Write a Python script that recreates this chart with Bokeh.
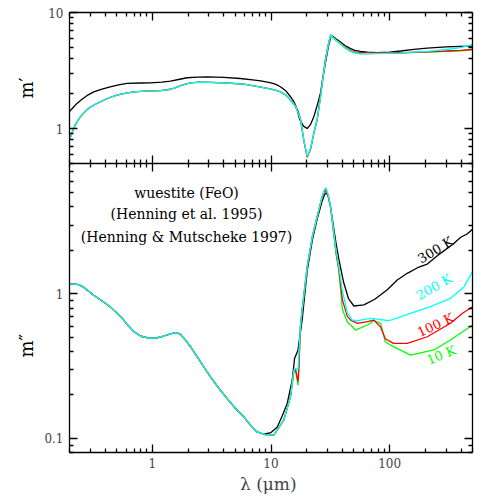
from bokeh.plotting import figure
from bokeh.layouts import column
from bokeh.models import LogAxis, Label, FixedTicker, CustomJSTickFormatter, Range1d, Title
from bokeh.embed import file_html
from bokeh.resources import INLINE

FONT = "DejaVu Serif"

# ---------------- data: real part m' ----------------
lam_n_300 = [0.2, 0.21, 0.23, 0.255, 0.28, 0.32, 0.37, 0.44, 0.52, 0.61,
             0.8, 0.96, 1.2, 1.42, 1.7, 1.96, 2.4, 2.9, 4.0, 5.5,
             7.0, 8.2, 10.0, 11.0, 12.0, 13.3, 14.6, 15.5, 16.0, 16.6,
             17.5, 18.8, 20.2, 21.5, 23.0, 25.0, 26.2, 27.5, 28.8, 30.5,
             32.2, 33.5, 35.5, 38.6, 42.0, 46.9, 51.0, 56.9, 65.0, 78.6,
             100, 124, 160, 208, 300, 398, 500]
n_300 = [1.40, 1.48, 1.64, 1.79, 1.92, 2.07, 2.18, 2.29, 2.38, 2.45,
         2.47, 2.48, 2.51, 2.56, 2.66, 2.74, 2.78, 2.79, 2.76, 2.70,
         2.63, 2.58, 2.48, 2.40, 2.29, 2.12, 1.88, 1.72, 1.62, 1.45,
         1.19, 1.05, 1.00, 1.08, 1.27, 1.70, 2.05, 2.80, 3.70, 5.10,
         6.35, 6.20, 5.90, 5.57, 5.20, 4.89, 4.72, 4.63, 4.56, 4.52,
         4.56, 4.66, 4.82, 4.94, 5.05, 5.11, 5.13]

# shared short-wavelength part of the 200 K, 100 K and 10 K curves
lam_n_short = [0.2, 0.21, 0.224, 0.237, 0.25, 0.265, 0.28, 0.30, 0.33, 0.364,
               0.4, 0.45, 0.5, 0.6, 0.7, 0.85, 1.0, 1.17, 1.35, 1.51,
               1.75, 2.09, 2.5, 3.09, 4.2, 5.9, 8.2, 9.3, 10.7, 12.0,
               13.3, 14.6]
n_short = [0.80, 0.92, 1.08, 1.19, 1.28, 1.37, 1.45, 1.53, 1.62, 1.70,
           1.78, 1.87, 1.94, 2.02, 2.07, 2.10, 2.11, 2.12, 2.16, 2.22,
           2.36, 2.48, 2.51, 2.50, 2.47, 2.41, 2.28, 2.22, 2.15, 2.07,
           1.95, 1.76]

lam_n_200_tail = [15.8, 16.3, 17.8, 18.9, 20.2, 21.6, 23.0, 24.5, 26.2, 27.5,
                  28.8, 30.3, 31.8, 33.5, 35.5, 38.6, 42.0, 46.9, 51.0, 56.9,
                  78.6, 124, 208, 300, 398, 500]
n_200_tail = [1.60, 1.52, 1.19, 0.80, 0.575, 0.68, 0.92, 1.19, 1.88, 2.80,
              3.88, 5.20, 6.44, 6.10, 5.75, 5.39, 5.00, 4.66, 4.52, 4.42,
              4.42, 4.48, 4.63, 4.80, 4.98, 5.30]

lam_n_cold_tail = [15.8, 16.3, 16.9, 17.8, 18.9, 20.2, 21.6, 23.0, 24.5, 26.2,
                   27.5, 28.8, 30.3, 31.8, 33.5, 35.5, 38.6, 42.0, 46.9, 51.0,
                   56.9, 78.6, 124, 208, 300, 398, 500]
n_100_tail = [1.60, 1.50, 1.42, 1.17, 0.79, 0.565, 0.67, 0.91, 1.19, 1.90,
              2.82, 3.92, 5.20, 6.40, 6.15, 5.80, 5.45, 5.05, 4.70, 4.58,
              4.50, 4.50, 4.50, 4.58, 4.66, 4.72, 4.80]
n_10_tail = [1.60, 1.50, 1.44, 1.18, 0.80, 0.57, 0.68, 0.93, 1.21, 1.92,
             2.85, 3.95, 5.15, 6.30, 6.00, 5.70, 5.35, 4.95, 4.62, 4.48,
             4.40, 4.45, 4.48, 4.55, 4.62, 4.68, 4.78]

# ---------------- data: imaginary part m'' ----------------
lam_k_common = [0.2, 0.22, 0.239, 0.26, 0.28, 0.32, 0.38, 0.44, 0.5, 0.573,
                0.63, 0.70, 0.8, 0.96, 1.1, 1.25, 1.4, 1.56, 1.7, 1.9,
                2.1, 2.38, 2.7, 3.09, 3.6, 4.27, 5.0, 5.9, 6.7, 7.64]
k_common = [1.17, 1.17, 1.16, 1.12, 1.07, 0.98, 0.89, 0.817, 0.74, 0.66,
            0.60, 0.548, 0.51, 0.493, 0.498, 0.512, 0.528, 0.54, 0.53, 0.48,
            0.43, 0.368, 0.315, 0.267, 0.225, 0.189, 0.162, 0.141, 0.124, 0.111]

lam_k_300_tail = [8.7, 10.0, 11.3, 12.5, 13.7, 15.1, 15.8, 16.9, 18.3, 20.2,
                  22.3, 24.5, 27.0, 28.2, 29.3, 30.5, 31.8, 33.9, 35.5, 37.3,
                  41.0, 45.0, 50.0, 60.7, 75.0, 95.6, 116, 141, 172, 208,
                  254, 338, 398, 450, 500]
k_300_tail = [0.107, 0.110, 0.120, 0.145, 0.175, 0.254, 0.358, 0.41, 0.66, 1.45,
              2.35, 3.3, 4.4, 4.85, 5.03, 4.7, 4.0, 2.8, 2.2, 1.75,
              1.2, 0.93, 0.826, 0.84, 0.92, 1.07, 1.25, 1.39, 1.52, 1.61,
              1.85, 2.19, 2.47, 2.6, 2.81]

lam_k_200_tail = [9.3, 10.6, 12.8, 14.6, 15.6, 16.1, 16.9, 17.7, 18.3, 20.2,
                  22.3, 24.5, 27.0, 28.0, 29.0, 30.3, 31.8, 33.9, 35.5, 37.3,
                  40.0, 44.0, 48.5, 53.6, 60.0, 70.0, 85.0, 98.6, 120, 150,
                  220, 326, 424, 500]
k_200_tail = [0.105, 0.106, 0.134, 0.194, 0.297, 0.306, 0.30, 0.59, 0.775, 1.55,
              2.49, 3.43, 4.72, 5.2, 5.45, 4.9, 4.03, 2.63, 1.95, 1.55,
              1.05, 0.74, 0.66, 0.653, 0.665, 0.678, 0.665, 0.653, 0.69, 0.735,
              0.817, 0.934, 1.12, 1.43]

lam_k_100_tail = [9.3, 10.6, 12.8, 14.6, 15.6, 16.1, 16.9, 17.2, 17.7, 18.3,
                  20.2, 22.3, 24.5, 27.0, 28.0, 29.0, 30.3, 31.8, 33.9, 35.5,
                  37.3, 40.0, 44.0, 47.0, 53.6, 65.0, 73.7, 84.0, 92.0, 108,
                  141, 208, 326, 412, 500]
k_100_tail = [0.105, 0.106, 0.134, 0.194, 0.297, 0.30, 0.247, 0.32, 0.59, 0.775,
              1.55, 2.49, 3.43, 4.70, 5.05, 5.26, 4.8, 4.0, 2.6, 1.9,
              1.5, 0.91, 0.70, 0.66, 0.627, 0.643, 0.66, 0.59, 0.49, 0.455,
              0.455, 0.506, 0.627, 0.735, 0.817]

lam_k_10_tail = [9.3, 10.6, 12.8, 14.6, 15.6, 16.1, 16.9, 17.2, 17.7, 18.3,
                 20.2, 22.3, 24.5, 27.0, 28.0, 29.0, 30.3, 31.8, 33.9, 35.5,
                 37.3, 40.0, 44.0, 47.0, 51.5, 65.0, 73.7, 84.0, 92.0, 102,
                 150, 236, 326, 500]
k_10_tail = [0.105, 0.106, 0.134, 0.194, 0.297, 0.30, 0.234, 0.31, 0.59, 0.775,
             1.55, 2.49, 3.43, 4.70, 5.1, 5.3, 4.8, 3.95, 2.55, 1.85,
             1.45, 0.78, 0.64, 0.61, 0.563, 0.61, 0.653, 0.627, 0.467, 0.443,
             0.378, 0.41, 0.48, 0.61]

temps = ["300 K", "200 K", "100 K", "10 K"]
colors = ["black", "#00FFFF", "#FF0000", "#00FF00"]

# ticks
x_major = [1, 10, 100]
x_minor = [0.2, 0.3, 0.4, 0.5, 0.6, 0.7, 0.8, 0.9, 2, 3, 4, 5, 6, 7, 8, 9,
           20, 30, 40, 50, 60, 70, 80, 90, 200, 300, 400, 500]
y1_major = [1, 10]
y1_minor = [0.5, 0.6, 0.7, 0.8, 0.9, 2, 3, 4, 5, 6, 7, 8, 9]
y2_major = [0.1, 1]
y2_minor = [0.08, 0.09, 0.2, 0.3, 0.4, 0.5, 0.6, 0.7, 0.8, 0.9, 2, 3, 4, 5, 6, 7, 8]

fmt_code = "return String(Number(tick.toPrecision(3)));"


def style_axis(ax, major, minor, labels):
    ax.ticker = FixedTicker(ticks=major, minor_ticks=minor)
    ax.major_tick_in = 8
    ax.major_tick_out = 0
    ax.minor_tick_in = 4
    ax.minor_tick_out = 0
    ax.axis_line_width = 1.3
    ax.major_tick_line_width = 1.3
    ax.minor_tick_line_width = 1.3
    if labels:
        ax.formatter = CustomJSTickFormatter(code=fmt_code)
        ax.major_label_text_font = FONT
        ax.major_label_text_font_size = "12px"
        ax.major_label_standoff = 6
    else:
        ax.formatter = CustomJSTickFormatter(code="return '';")
        ax.major_label_text_font_size = "0px"
        ax.major_label_standoff = 0
    return ax


def make_fig(h, yr, top, bottom):
    p = figure(width=492, height=h, x_axis_type="log", y_axis_type="log",
               x_range=Range1d(0.2, 500), y_range=Range1d(*yr),
               output_backend="svg", toolbar_location=None,
               min_border_left=69, min_border_right=20,
               min_border_top=top, min_border_bottom=bottom)
    p.grid.visible = False
    p.outline_line_color = None
    p.background_fill_color = "white"
    p.border_fill_color = "white"
    return p


# ---------------- top panel ----------------
p1 = make_fig(163, (0.5, 10), 12, 0)
style_axis(p1.xaxis[0], x_major, x_minor, False)
style_axis(p1.yaxis[0], y1_major, y1_minor, True)
p1.add_layout(style_axis(LogAxis(), x_major, x_minor, False), "above")
p1.add_layout(style_axis(LogAxis(), y1_major, y1_minor, False), "right")

p1.line(lam_n_300, n_300, color=colors[0], line_width=1.3)
p1.line(lam_n_short + lam_n_cold_tail, n_short + n_10_tail, color=colors[3], line_width=1.3)
p1.line(lam_n_short + lam_n_cold_tail, n_short + n_100_tail, color=colors[2], line_width=1.3)
p1.line(lam_n_short + lam_n_200_tail, n_short + n_200_tail, color=colors[1], line_width=1.3)

p1.add_layout(Title(text="m\u2032", align="center", standoff=18,
                    text_font=FONT, text_font_size="18px", text_font_style="normal",
                    text_color="black"), "left")

# ---------------- bottom panel ----------------
p2 = make_fig(333, (0.08, 8), 0, 44)
x2_below = style_axis(p2.xaxis[0], x_major, x_minor, True)
style_axis(p2.yaxis[0], y2_major, y2_minor, True)
p2.add_layout(style_axis(LogAxis(), x_major, x_minor, False), "above")
p2.add_layout(style_axis(LogAxis(), y2_major, y2_minor, False), "right")

x2_below.major_label_standoff = 5
x2_below.axis_label = "\u03bb  (\u03bcm)"
x2_below.axis_label_text_font = FONT
x2_below.axis_label_text_font_size = "17px"
x2_below.axis_label_text_font_style = "normal"
x2_below.axis_label_standoff = 3

series = [
    (lam_k_300_tail, k_300_tail),
    (lam_k_200_tail, k_200_tail),
    (lam_k_100_tail, k_100_tail),
    (lam_k_10_tail, k_10_tail),
]
order = [0, 3, 2, 1]
for i in order:
    lt, kt = series[i]
    p2.line(lam_k_common + lt, k_common + kt, color=colors[i], line_width=1.3)

for txt, yy in [("wuestite (FeO)", 4.99), ("(Henning et al. 1995)", 3.57),
                ("(Henning & Mutscheke 1997)", 2.49)]:
    p2.add_layout(Label(x=1.94, y=yy, text=txt, text_align="center", text_baseline="middle",
                        text_font=FONT, text_font_size="14px", text_color="black"))

temp_pos = [(244, 2.02, 31), (237, 1.12, 30), (244, 0.61, 25), (273, 0.378, 22)]
for t, c, (xx, yy, a) in zip(temps, colors, temp_pos):
    p2.add_layout(Label(x=xx, y=yy, text=t, angle=a, angle_units="deg",
                        text_align="center", text_baseline="middle",
                        text_font=FONT, text_font_size="13px", text_color=c))

p2.add_layout(Title(text="m\u2033", align="left", offset=95, standoff=10,
                    text_font=FONT, text_font_size="18px", text_font_style="normal",
                    text_color="black"), "left")

layout = column(p1, p2, spacing=0)
open("out.html", "w").write(file_html(layout, INLINE))
